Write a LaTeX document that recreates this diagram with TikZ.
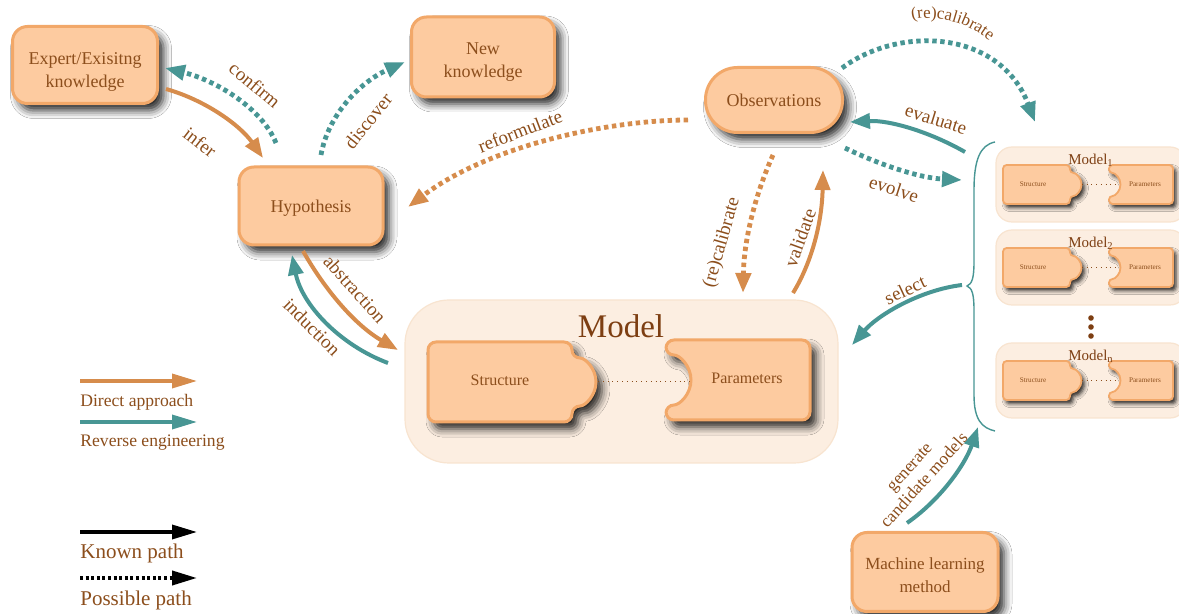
\documentclass[tikz,border=0pt]{standalone}
\usepackage{fontspec}
\setmainfont{Liberation Serif}
\usetikzlibrary{arrows.meta,shadows.blur,decorations.text}
\definecolor{txt}{RGB}{140,78,28}
\definecolor{modeltxt}{RGB}{125,62,18}
\definecolor{oarr}{RGB}{214,140,76}
\definecolor{tarr}{RGB}{72,150,148}
\definecolor{nfill}{RGB}{253,203,160}
\definecolor{nborder}{RGB}{242,168,105}
\definecolor{mbg}{RGB}{252,238,225}
\definecolor{mbgb}{RGB}{248,228,208}
\tikzset{
  shad/.style={blur shadow={shadow xshift=3pt,shadow yshift=-3.5pt,shadow blur radius=4pt,shadow opacity=85}},
  box/.style={draw=nborder,fill=nfill,line width=1.5pt,rounded corners=7.5pt,text=txt,
     font=\fontsize{9}{11.5}\selectfont,align=center,inner sep=0pt,shad},
  puzzle/.style={draw=nborder,fill=nfill,line width=1.5pt,rounded corners=4pt,shad},
  spuzzle/.style={draw=nborder,fill=nfill,line width=0.9pt,rounded corners=1.8pt,
     blur shadow={shadow xshift=1.5pt,shadow yshift=-1.8pt,shadow blur radius=2pt,shadow opacity=85}},
  bg/.style={fill=mbg,draw=mbgb,line width=0.6pt},
  lab/.style={text=txt,font=\fontsize{9.5}{11}\selectfont},
  head/.style={-{Triangle[length=10pt,width=7.5pt]}},
  solidO/.style={draw=oarr,line width=2pt,head},
  solidT/.style={draw=tarr,line width=2pt,head},
  dotO/.style={draw=oarr,line width=2.4pt,dash pattern=on 2.2pt off 1.8pt,head},
  dotT/.style={draw=tarr,line width=2.4pt,dash pattern=on 2.2pt off 1.8pt,head},
  leghead/.style={-{Triangle[length=12.5pt,width=7pt]}},
  legtxt/.style={text=txt,anchor=base west,inner sep=0pt},
  smalltxt/.style={text=txt,font=\fontsize{3.6}{4}\selectfont,inner sep=0pt},
}
\begin{document}
\begin{tikzpicture}[x=0.5pt,y=-0.5pt]
\fill[white] (0,0) rectangle (1179,614);
\useasboundingbox (0,0) rectangle (1179,614);

% ---------- main nodes
\node[box,minimum width=72.5pt,minimum height=38.5pt] (exp) at (85,65) {\rule{0pt}{12.5pt}Expert/Exisitng\\knowledge};
\node[box,minimum width=71.5pt,minimum height=40pt] (new) at (483,57) {\rule{0pt}{11pt}New\\knowledge};
\node[box,minimum width=72pt,minimum height=39pt] (hyp) at (311,206) {\rule{0pt}{8pt}Hypothesis};
\node[box,rounded corners=16pt,minimum width=68.5pt,minimum height=32.5pt] (obs) at (774,100) {Observations};
\node[box,font=\fontsize{8.5}{11.5}\selectfont,minimum width=73pt,minimum height=39.5pt] (ml) at (925,572) {\rule{0pt}{9pt}Machine learning\\method};

% ---------- big model
\node[bg,rounded corners=22pt,minimum width=216.5pt,minimum height=81.5pt,inner sep=0pt] (model) at (621.5,381.5) {};
\node[text=modeltxt,font=\fontsize{16.5}{18}\selectfont] (modeltitle) at (621,326) {Model};
\path[puzzle] (428,342) -- (572,342) -- (572,358) arc[start angle=90,end angle=-90,radius=12pt] -- (572,422) -- (428,422) -- cycle;
\path[puzzle] (666,340) -- (810,340) -- (810,420) -- (666,420) -- (666,405) arc[start angle=-90,end angle=90,radius=12.5pt] -- cycle;
\node[text=txt,font=\fontsize{8}{9}\selectfont] (struct) at (500,380) {Structure};
\node[text=txt,font=\fontsize{8}{9}\selectfont] (param) at (747,378) {Parameters};
\coordinate (sb) at (598,381);
\coordinate (pn) at (690,381);
\draw[txt,line width=0.4pt,dotted] (sb) -- (pn);

% ---------- candidate models
\foreach \dy/\sub in {0/1,83/2,196/n}{
 \begin{scope}[shift={(0,\dy)}]
  \path[bg,rounded corners=8pt] (996,147) rectangle (1186,222);
  \path[spuzzle] (1003,165) -- (1070,165) -- (1070,173) arc[start angle=90,end angle=-90,radius=5.75pt] -- (1070,204) -- (1003,204) -- cycle;
  \path[spuzzle] (1109,165) -- (1173,165) -- (1173,204) -- (1109,204) -- (1109,196) arc[start angle=-90,end angle=90,radius=5.75pt] -- cycle;
  \coordinate (sb\sub) at (1082,184.5);
  \coordinate (pn\sub) at (1117,184.5);
  \draw[txt,line width=0.35pt,dotted] (sb\sub) -- (pn\sub);
  \node[smalltxt] (st\sub) at (1033,184.5) {Structure};
  \node[smalltxt] (pa\sub) at (1145,184) {Parameters};
  \node[text=modeltxt,font=\fontsize{7.5}{8}\selectfont,inner sep=0pt] (mt\sub) at (1091,160) {Model\textsubscript{\sub}};
 \end{scope}
}
\fill[modeltxt] (1091,318) circle (1.4pt) (1091,327) circle (1.4pt) (1091,336) circle (1.4pt);

% brace
\draw[tarr,line width=0.7pt] (995,142) .. controls (980,145) and (974,160) .. (974,190) -- (974,262)
  .. controls (974,278) and (972,284) .. (967,286) .. controls (972,288) and (974,294) .. (974,310)
  -- (974,395) .. controls (974,420) and (982,428) .. (995,431);

% ---------- connectors
\draw[solidO] (166,89) .. controls (205,100) and (240,125) .. (263,158);
\node[lab,rotate=-38] (linfer) at (200,142) {infer};

\draw[dotT] (276,143) .. controls (262,108) and (215,80) .. (165,68);
\node[lab,rotate=-40] (lconfirm) at (255,85) {confirm};

\draw[dotT] (321,155) .. controls (328,115) and (360,82) .. (405,62);
\node[lab,rotate=51] (ldiscover) at (368,121) {discover};

\draw[dotO] (688,120) .. controls (610,120) and (490,145) .. (408,207);
\node[lab,rotate=21] (lreform) at (520,131) {reformulate};

\draw[solidO] (303,251) .. controls (325,290) and (355,325) .. (398,350);
\node[lab,rotate=-48] (labstr) at (355,289) {abstraction};

\draw[solidT] (388,363) .. controls (340,345) and (302,305) .. (292,255);
\node[lab,rotate=-45] (linduc) at (312,327) {induction};

\draw[dotO] (773,155) .. controls (755,195) and (744,240) .. (743,293);
\node[lab,rotate=74] (lrecal) at (722,243) {(re)calibrate};

\draw[solidO] (793,293) .. controls (812,262) and (822,222) .. (823,170);
\node[lab,rotate=70] (lvalid) at (800,238) {validate};

\draw[dotT] (842,68) .. controls (900,25) and (1000,30) .. (1035,122);
\path[decorate,decoration={text along path,text align=center,text color=txt,
   text={|\fontsize{8.5}{10}\selectfont|(re)calibrate}}] (905,22) .. controls (935,12) and (970,22) .. (995,46);

\draw[solidT] (965,152) .. controls (930,132) and (890,120) .. (850,122);
\node[lab,rotate=-17] (leval) at (936,119) {evaluate};

\draw[dotT] (845,148) .. controls (880,165) and (920,178) .. (962,180);
\node[lab,rotate=-18] (levolve) at (894,189) {evolve};

\draw[solidT] (962,285) .. controls (920,290) and (878,315) .. (852,345);
\node[lab,rotate=25] (lselect) at (905,290) {select};

\draw[solidT] (907,523) .. controls (940,500) and (965,465) .. (978,427);
\node[lab,font=\fontsize{8.7}{10}\selectfont,align=center,rotate=48] (lgen) at (917,474) {generate\\candidate models};

% ---------- legend
\draw[oarr,line width=1.7pt,leghead] (80,381) -- (197,381);
\node[legtxt,font=\fontsize{8.8}{10}\selectfont] (l1) at (80,407) {Direct approach};
\draw[tarr,line width=1.7pt,leghead] (80,422) -- (197,422);
\node[legtxt,font=\fontsize{8.8}{10}\selectfont] (l2) at (80,447) {Reverse engineering};
\draw[black,line width=1.7pt,leghead] (80,532) -- (197,532);
\node[legtxt,font=\fontsize{10.5}{12}\selectfont] (l3) at (80,559) {Known path};
\draw[black,line width=1.9pt,dash pattern=on 1.5pt off 1.3pt,leghead] (80,578) -- (197,578);
\node[legtxt,font=\fontsize{10.5}{12}\selectfont] (l4) at (80,606) {Possible path};
\end{tikzpicture}
\end{document}
